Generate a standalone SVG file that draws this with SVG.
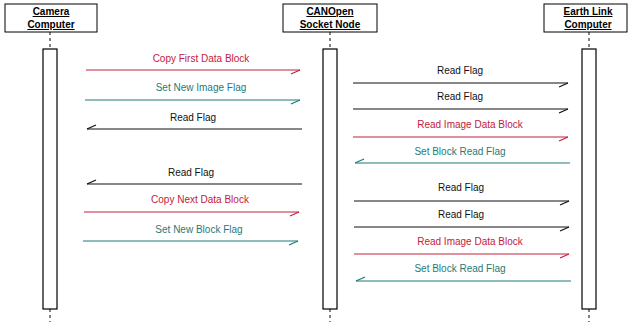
<svg xmlns="http://www.w3.org/2000/svg" width="628" height="322" viewBox="0 0 628 322">
<style>
.hdr{fill:#fff;stroke:#000;stroke-width:1}
.ht{font-family:"Liberation Sans",Arial,sans-serif;font-size:10px;font-weight:bold;text-anchor:middle;text-decoration:underline;fill:#000}
.act{fill:#fff;stroke:#000;stroke-width:1.2}
.life{stroke:#333;stroke-width:1.2;stroke-dasharray:3,3;fill:none}
.m{font-family:"Liberation Sans",Arial,sans-serif;font-size:10px;text-anchor:middle}
.k{fill:#111}.r{fill:#c4203c}.t{fill:#1f7a78}
.lk{stroke:#111;stroke-width:1.1;fill:none;marker-end:url(#hk)}
.lr{stroke:#c4203c;stroke-width:1.1;fill:none;marker-end:url(#hr)}
.lt{stroke:#1f7a78;stroke-width:1.1;fill:none;marker-end:url(#ht)}
</style>
<defs>
<marker id="hk" markerWidth="12" markerHeight="8" refX="10" refY="2" orient="auto" markerUnits="userSpaceOnUse"><path d="M10,2 L1,6" stroke="#111" stroke-width="1.2" fill="none"/></marker>
<marker id="hr" markerWidth="12" markerHeight="8" refX="10" refY="2" orient="auto" markerUnits="userSpaceOnUse"><path d="M10,2 L1,6" stroke="#c4203c" stroke-width="1.2" fill="none"/></marker>
<marker id="ht" markerWidth="12" markerHeight="8" refX="10" refY="2" orient="auto" markerUnits="userSpaceOnUse"><path d="M10,2 L1,6" stroke="#1f7a78" stroke-width="1.2" fill="none"/></marker>
</defs>
<g id="camera">
<line class="life" x1="50" y1="32" x2="50" y2="49"/>
<line class="life" x1="50" y1="309" x2="50" y2="322"/>
<rect class="hdr" x="5" y="4" width="92" height="28"/>
<text class="ht" x="51" y="15">Camera</text>
<text class="ht" x="51" y="28">Computer</text>
<rect class="act" x="43" y="49" width="14" height="260"/>
</g>
<g id="canopen">
<line class="life" x1="330" y1="32" x2="330" y2="49"/>
<line class="life" x1="330" y1="309" x2="330" y2="322"/>
<rect class="hdr" x="283" y="4" width="94" height="28"/>
<text class="ht" x="330" y="15">CANOpen</text>
<text class="ht" x="330" y="28">Socket Node</text>
<rect class="act" x="323" y="49" width="14" height="260"/>
</g>
<g id="earthlink">
<line class="life" x1="589" y1="32" x2="589" y2="49"/>
<line class="life" x1="589" y1="309" x2="589" y2="322"/>
<rect class="hdr" x="544" y="4" width="83" height="28"/>
<text class="ht" x="588" y="15">Earth Link</text>
<text class="ht" x="588" y="28">Computer</text>
<rect class="act" x="582" y="49" width="14" height="260"/>
</g>
<g id="connectors">
<line class="lr" x1="86" y1="70" x2="300" y2="70"/>
<text class="m r" x="201" y="62">Copy First Data Block</text>
<line class="lt" x1="85" y1="100" x2="300" y2="100"/>
<text class="m t" x="201" y="91">Set New Image Flag</text>
<line class="lk" x1="302" y1="129" x2="87" y2="129"/>
<text class="m k" x="193" y="121">Read Flag</text>
<line class="lk" x1="302" y1="184" x2="87" y2="184"/>
<text class="m k" x="191" y="176">Read Flag</text>
<line class="lr" x1="84" y1="212" x2="299" y2="212"/>
<text class="m r" x="200" y="203">Copy Next Data Block</text>
<line class="lt" x1="83" y1="241" x2="298" y2="241"/>
<text class="m t" x="199" y="233">Set New Block Flag</text>

<line class="lk" x1="353" y1="83" x2="568" y2="83"/>
<text class="m k" x="460" y="74">Read Flag</text>
<line class="lk" x1="353" y1="109" x2="568" y2="109"/>
<text class="m k" x="460" y="100">Read Flag</text>
<line class="lr" x1="353" y1="137" x2="568" y2="137"/>
<text class="m r" x="470" y="128">Read Image Data Block</text>
<line class="lt" x1="570" y1="163" x2="355" y2="163"/>
<text class="m t" x="460" y="155">Set Block Read Flag</text>
<line class="lk" x1="354" y1="201" x2="569" y2="201"/>
<text class="m k" x="461" y="191">Read Flag</text>
<line class="lk" x1="354" y1="227" x2="569" y2="227"/>
<text class="m k" x="461" y="218">Read Flag</text>
<line class="lr" x1="354" y1="254" x2="569" y2="254"/>
<text class="m r" x="470" y="245">Read Image Data Block</text>
<line class="lt" x1="571" y1="281" x2="356" y2="281"/>
<text class="m t" x="460" y="272">Set Block Read Flag</text>
</g>
</svg>
